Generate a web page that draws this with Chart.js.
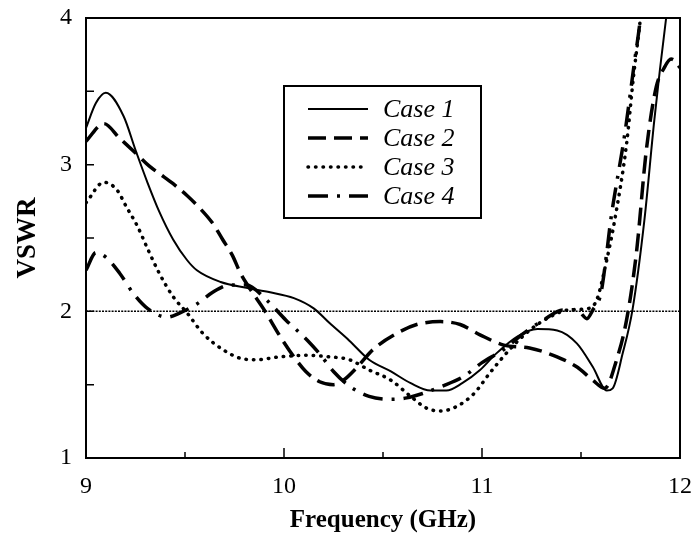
<!DOCTYPE html>
<html>
<head>
<meta charset="utf-8">
<title>VSWR</title>
<script src="https://cdn.jsdelivr.net/npm/chart.js@4.4.0/dist/chart.umd.min.js"></script>
<style>
  html, body { margin: 0; padding: 0; background: #fff; }
  canvas { display: block; }
</style>
</head>
<body>
<canvas id="vswr" width="696" height="537"></canvas>
<script>
// values
const case1Freq = [9.0, 9.05, 9.1, 9.19, 9.25, 9.31, 9.37, 9.44, 9.51, 9.56, 9.68, 9.81, 9.93, 10.05, 10.15, 10.23, 10.33, 10.43, 10.54, 10.64, 10.74, 10.82, 10.9, 10.99, 11.07, 11.18, 11.28, 11.38, 11.48, 11.56, 11.63, 11.66, 11.71, 11.76, 11.82, 11.87, 11.93, 11.96];
const case1Vswr = [3.25, 3.42, 3.49, 3.33, 3.10, 2.88, 2.68, 2.49, 2.35, 2.28, 2.20, 2.16, 2.13, 2.09, 2.02, 1.92, 1.80, 1.67, 1.59, 1.51, 1.46, 1.46, 1.51, 1.60, 1.71, 1.83, 1.88, 1.87, 1.78, 1.62, 1.46, 1.475, 1.71, 2.01, 2.62, 3.3, 4.0, 4.3];

const case2Freq = [9.0, 9.09, 9.17, 9.25, 9.32, 9.37, 9.44, 9.51, 9.57, 9.64, 9.69, 9.74, 9.78, 9.83, 9.9, 9.98, 10.05, 10.11, 10.18, 10.25, 10.3, 10.37, 10.45, 10.57, 10.67, 10.79, 10.89, 10.99, 11.11, 11.24, 11.36, 11.48, 11.56, 11.62, 11.68, 11.73, 11.78, 11.83, 11.88, 11.92, 11.955, 11.98, 12.0];
const case2Vswr = [3.16, 3.28, 3.18, 3.08, 2.99, 2.94, 2.87, 2.79, 2.71, 2.60, 2.49, 2.38, 2.26, 2.15, 2.01, 1.83, 1.69, 1.59, 1.52, 1.50, 1.53, 1.62, 1.74, 1.85, 1.91, 1.93, 1.91, 1.84, 1.77, 1.75, 1.70, 1.62, 1.53, 1.475, 1.67, 1.94, 2.40, 3.10, 3.53, 3.66, 3.72, 3.70, 3.66];

const case3Freq = [9.0, 9.09, 9.155, 9.205, 9.26, 9.31, 9.37, 9.44, 9.51, 9.59, 9.69, 9.78, 9.86, 9.98, 10.11, 10.23, 10.33, 10.43, 10.54, 10.64, 10.72, 10.79, 10.87, 10.96, 11.04, 11.14, 11.24, 11.34, 11.44, 11.54, 11.58, 11.63, 11.67, 11.73, 11.765, 11.8, 11.82];
const case3Vswr = [2.74, 2.88, 2.83, 2.71, 2.58, 2.43, 2.26, 2.10, 1.99, 1.85, 1.74, 1.68, 1.67, 1.69, 1.70, 1.69, 1.67, 1.60, 1.53, 1.42, 1.34, 1.32, 1.35, 1.44, 1.58, 1.74, 1.87, 1.96, 2.01, 2.02, 2.08, 2.35, 2.62, 3.14, 3.60, 4.0, 4.3];

const case4Freq = [9.0, 9.05, 9.1, 9.17, 9.24, 9.31, 9.41, 9.475, 9.56, 9.64, 9.73, 9.81, 9.91, 10.01, 10.12, 10.18, 10.25, 10.33, 10.43, 10.54, 10.62, 10.7, 10.8, 10.9, 11.0, 11.11, 11.21, 11.31, 11.41, 11.48, 11.53, 11.56, 11.6, 11.63, 11.65, 11.72, 11.77, 11.8, 11.82];
const case4Vswr = [2.28, 2.40, 2.37, 2.26, 2.12, 2.02, 1.96, 1.99, 2.05, 2.13, 2.18, 2.18, 2.08, 1.94, 1.80, 1.71, 1.59, 1.49, 1.42, 1.40, 1.41, 1.44, 1.49, 1.55, 1.65, 1.74, 1.85, 1.94, 2.01, 2.01, 1.95, 2.01, 2.12, 2.40, 2.62, 3.2, 3.7, 4.0, 4.3];

const refFreq = [9, 12];
const refVswr = [2, 2];

const caseLabels = ["Case 1", "Case 2", "Case 3", "Case 4"];

function pts(f, v) {
  return f.map((x, i) => ({ x: x, y: v[i] }));
}

const serif = "'Liberation Serif', 'Times New Roman', serif";

// frame, inward ticks and the boxed legend
const framePlugin = {
  id: 'frame',
  afterDraw(chart) {
    const ctx = chart.ctx;
    const a = chart.chartArea;
    const xs = chart.scales.x, ys = chart.scales.y;
    ctx.save();
    ctx.strokeStyle = '#000';
    ctx.lineWidth = 2;
    ctx.strokeRect(a.left, a.top, a.right - a.left, a.bottom - a.top);

    ctx.lineWidth = 1.5;
    ctx.beginPath();
    for (let v = 9.5; v < 12; v += 0.5) {
      const px = xs.getPixelForValue(v);
      const len = Number.isInteger(v) ? 10 : 6;
      ctx.moveTo(px, a.bottom);
      ctx.lineTo(px, a.bottom - len);
    }
    for (let v = 1.5; v < 4; v += 0.5) {
      const py = ys.getPixelForValue(v);
      ctx.moveTo(a.left, py);
      ctx.lineTo(a.left + 8, py);
    }
    ctx.stroke();

    // legend box
    const bx = a.left + 198, by = a.top + 68, bw = 197, bh = 132;
    ctx.fillStyle = '#fff';
    ctx.fillRect(bx, by, bw, bh);
    ctx.lineWidth = 2;
    ctx.strokeRect(bx, by, bw, bh);

    ctx.font = "italic 26px " + serif;
    ctx.textBaseline = 'middle';
    ctx.textAlign = 'left';
    caseLabels.forEach((lab, i) => {
      const ds = chart.data.datasets[i];
      const y = by + 23 + i * 29;
      ctx.save();
      ctx.strokeStyle = ds.borderColor;
      ctx.lineWidth = ds.borderWidth;
      ctx.lineCap = ds.borderCapStyle || 'butt';
      ctx.setLineDash(ds.borderDash || []);
      ctx.beginPath();
      ctx.moveTo(bx + 24, y);
      ctx.lineTo(bx + 84, y);
      ctx.stroke();
      ctx.restore();
      ctx.fillStyle = '#000';
      ctx.fillText(lab, bx + 99, y + 1);
    });
    ctx.restore();
  }
};

new Chart(document.getElementById('vswr').getContext('2d'), {
  type: 'line',
  data: {
    datasets: [
      { label: caseLabels[0], data: pts(case1Freq, case1Vswr), borderColor: '#000', borderWidth: 2, borderDash: [] },
      { label: caseLabels[1], data: pts(case2Freq, case2Vswr), borderColor: '#000', borderWidth: 3.5, borderDash: [18, 8] },
      { label: caseLabels[2], data: pts(case3Freq, case3Vswr), borderColor: '#000', borderWidth: 3.5, borderDash: [0.5, 7], borderCapStyle: 'round' },
      { label: caseLabels[3], data: pts(case4Freq, case4Vswr), borderColor: '#000', borderWidth: 3.5, borderDash: [20, 9, 3, 9] },
      { label: '', data: pts(refFreq, refVswr), borderColor: '#000', borderWidth: 1.5, borderDash: [2, 1.2] }
    ]
  },
  options: {
    responsive: false,
    animation: false,
    devicePixelRatio: 1,
    cubicInterpolationMode: 'monotone',
    elements: { point: { radius: 0 } },
    layout: { padding: { top: 18, right: 16, left: 0, bottom: 0 } },
    plugins: { legend: { display: false }, tooltip: { enabled: false } },
    scales: {
      x: {
        type: 'linear', min: 9, max: 12,
        grid: { display: false, drawTicks: false },
        border: { display: false },
        ticks: { stepSize: 1, padding: 14, color: '#000', font: { family: serif, size: 24 } },
        title: { display: true, text: 'Frequency (GHz)', color: '#000', padding: { top: 0, bottom: 1 }, font: { family: serif, size: 25, weight: 'bold' } },
        afterFit(scale) { scale.height = 79; scale.paddingLeft = 0; scale.paddingRight = 0; }
      },
      y: {
        min: 1, max: 4,
        grid: { display: false, drawTicks: false },
        border: { display: false },
        ticks: { stepSize: 1, padding: 14, color: '#000', font: { family: serif, size: 24 } },
        title: { display: true, text: 'VSWR', color: '#000', padding: { top: 12, bottom: 0 }, font: { family: serif, size: 27, weight: 'bold' } },
        afterFit(scale) { scale.width = 86; scale.paddingTop = 0; scale.paddingBottom = 0; }
      }
    }
  },
  plugins: [framePlugin]
});
</script>
</body>
</html>
